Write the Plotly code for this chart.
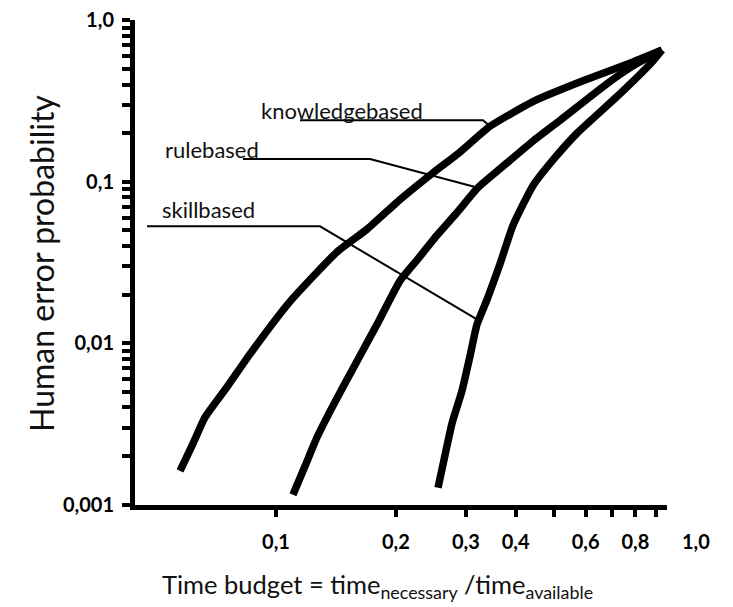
import numpy as np
import plotly.graph_objects as go

# ---- data ----
knowledge_x = [0.0574, 0.0619, 0.0663, 0.0757, 0.0860, 0.1084, 0.1423, 0.1693, 0.2049,
               0.2480, 0.2900, 0.3449, 0.4422, 0.5906, 0.7888, 0.9329]
knowledge_y = [0.00162, 0.00240, 0.00347, 0.00545, 0.00856, 0.0181, 0.0367, 0.0508, 0.0776,
               0.1136, 0.1528, 0.2206, 0.314, 0.422, 0.5525, 0.655]

rule_x = [0.1103, 0.1183, 0.1268, 0.1391, 0.1535, 0.1794, 0.2049, 0.2261, 0.2538, 0.2850,
          0.3217, 0.3805, 0.4422, 0.5171, 0.6787, 0.7888, 0.9329]
rule_y = [0.001152, 0.001735, 0.002614, 0.004107, 0.006453, 0.01308, 0.02435, 0.03275,
          0.04664, 0.06453, 0.09189, 0.1308, 0.1785, 0.2401, 0.405, 0.5222, 0.655]

skill_x = [0.2553, 0.2658, 0.2768, 0.2933, 0.3072, 0.3199, 0.3390, 0.3654, 0.3940, 0.4422,
           0.4966, 0.5705, 0.7192, 0.8856, 0.9329]
skill_y = [0.001272, 0.002026, 0.003185, 0.005076, 0.008322, 0.01308, 0.01862, 0.03096,
           0.05372, 0.09452, 0.1365, 0.1998, 0.337, 0.5604, 0.655]

# leader lines (label -> curve)
knowledge_leader_x = [0.1149, 0.3312, 0.3449]
knowledge_leader_y = [0.2401, 0.2401, 0.2206]
rule_leader_x = [0.08263, 0.1723, 0.3217]
rule_leader_y = [0.1384, 0.1384, 0.09189]
skill_leader_x = [0.04742, 0.1290, 0.3199]
skill_leader_y = [0.05296, 0.05296, 0.01404]

labels = ["knowledgebased", "rulebased", "skillbased"]
label_x = [0.1461, 0.06885, 0.06767]
label_y = [0.2765, 0.1594, 0.06733]

x_tickvals = [0.1, 0.2, 0.3, 0.4, 0.6, 0.8]
x_ticktext = ["0,1", "0,2", "0,3", "0,4", "0,6", "0,8"]
x_minor_vals = [0.5, 0.7, 0.9]

y_tickvals = [0.001, 0.01, 0.1, 1.0]
y_ticktext = ["0,001", "0,01", "0,1", "1,0"]
y_minor_vals = [d * dec for dec in [0.001, 0.01, 0.1] for d in range(2, 10)]

# ---- figure ----
fig = go.Figure()
for xs, ys in [(knowledge_x, knowledge_y), (rule_x, rule_y), (skill_x, skill_y)]:
    fig.add_trace(go.Scatter(x=xs, y=ys, mode="lines",
                             line=dict(color="black", width=7.5, shape="spline", smoothing=0.5),
                             showlegend=False, hoverinfo="skip"))
for xs, ys in [(knowledge_leader_x, knowledge_leader_y), (rule_leader_x, rule_leader_y),
               (skill_leader_x, skill_leader_y)]:
    fig.add_trace(go.Scatter(x=xs, y=ys, mode="lines",
                             line=dict(color="black", width=2),
                             showlegend=False, hoverinfo="skip"))

for t, lx, ly in zip(labels, label_x, label_y):
    fig.add_annotation(x=np.log10(lx), y=np.log10(ly), xref="x", yref="y", text=t,
                       showarrow=False, xanchor="center", yanchor="middle",
                       font=dict(family="Lato", size=22, color="#111"))

tickfont = dict(family="Lato", size=20, color="black", weight="bold")
x_range = [-1.3543, -0.0176]

# the page body adds an 8px offset, so the figure is 8px smaller than the window
fig.update_layout(
    width=725, height=599,
    margin=dict(l=127, r=66, t=12, b=102),
    paper_bgcolor="white", plot_bgcolor="white",
    xaxis=dict(type="log", range=x_range, showgrid=False, zeroline=False, automargin=False,
               showline=True, linewidth=5, linecolor="black",
               ticks="outside", ticklen=7, tickwidth=4, tickcolor="black",
               tickmode="array", tickvals=x_tickvals, ticktext=x_ticktext,
               minor=dict(tickmode="array", tickvals=x_minor_vals, ticks="outside",
                          ticklen=7, tickwidth=4, tickcolor="black", showgrid=False),
               tickfont=tickfont, ticklabelstandoff=8, ticklabeloverflow="allow"),
    yaxis=dict(type="log", range=[-3.002, 0.002], showgrid=False, zeroline=False,
               automargin=False,
               showline=True, linewidth=5, linecolor="black",
               ticks="outside", ticklen=8, tickwidth=4, tickcolor="black",
               tickmode="array", tickvals=y_tickvals, ticktext=y_ticktext,
               minor=dict(tickmode="array", tickvals=y_minor_vals, ticks="outside",
                          ticklen=8, tickwidth=4, tickcolor="black", showgrid=False),
               tickfont=tickfont, ticklabelstandoff=4, ticklabeloverflow="allow"),
)

# y axis title
fig.add_annotation(x=0.0, y=0.497, xref="paper", yref="paper", xshift=-93,
                   text="Human error probability", textangle=-90, showarrow=False,
                   xanchor="center", yanchor="middle",
                   font=dict(family="Lato", size=32, color="#111"))

# "1,0" label at the end of the x axis (x = 1.0 on the log scale)
x_one = (0.0 - x_range[0]) / (x_range[1] - x_range[0])
fig.add_annotation(x=x_one, y=0.0, xref="paper", yref="paper", text="1,0", showarrow=False,
                   xanchor="center", yanchor="top", xshift=22, yshift=-22,
                   font=tickfont)

# x axis title
fig.add_annotation(x=0.455, y=0.0, xref="paper", yref="paper", yshift=-100,
                   text="Time budget = time<sub>necessary</sub> /time<sub>available</sub>",
                   showarrow=False, xanchor="center", yanchor="bottom",
                   font=dict(family="Lato", size=25.5, color="#111"))

fig.write_html("out.html")
